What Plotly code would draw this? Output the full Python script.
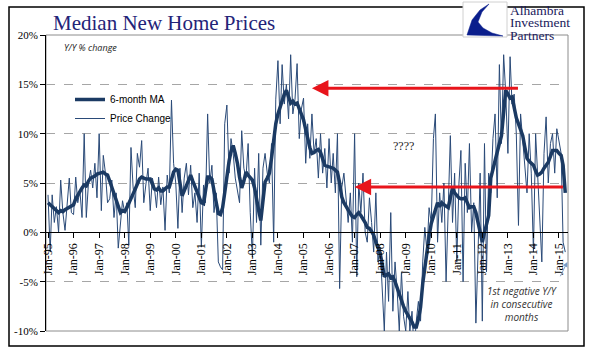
import pandas as pd
import plotly.graph_objects as go

# ---------------- data ----------------
start_month = "1995-01-01"

ma_6m = [
    3.0, 2.8, 2.6, 2.4, 2.2, 2.0, 2.2, 2.1, 2.3, 2.4, 2.5, 2.6,      # 1995
    2.8, 3.4, 3.8, 4.2, 4.5, 4.8, 4.7, 5.2, 5.5, 5.6, 5.7, 5.9,      # 1996
    6.0, 6.1, 6.1, 5.9, 5.8, 5.2, 4.6, 3.9, 3.2, 2.6, 2.0, 2.2,      # 1997
    2.1, 2.5, 3.0, 3.5, 3.9, 4.4, 5.0, 5.4, 5.6, 5.5, 5.4, 5.4,      # 1998
    5.4, 4.9, 4.4, 4.3, 4.5, 4.2, 4.2, 4.4, 4.6, 4.6, 5.5, 6.1,      # 1999
    6.4, 6.3, 5.0, 3.7, 4.2, 4.8, 5.3, 5.8, 5.2, 4.6, 4.0, 3.4,      # 2000
    3.0, 2.9, 4.0, 5.6, 5.6, 5.4, 4.2, 2.8, 1.9, 1.8, 2.5, 4.0,      # 2001
    5.8, 7.2, 8.2, 8.8, 8.0, 7.0, 5.6, 4.5, 5.2, 6.1, 5.8, 5.5,      # 2002
    5.3, 4.5, 3.2, 2.2, 1.2, 3.0, 5.1, 5.5, 6.0, 7.5, 9.3, 11.0,     # 2003
    12.0, 12.7, 13.5, 14.0, 14.4, 13.6, 13.1, 13.3, 13.0, 13.1, 12.5, 12.0,  # 2004
    11.4, 10.4, 9.4, 8.6, 8.0, 8.1, 8.3, 8.4, 8.1, 7.4, 6.8, 6.7,    # 2005
    6.6, 6.5, 6.5, 6.3, 6.1, 5.0, 3.6, 3.0, 2.6, 2.2, 1.9, 1.6,      # 2006
    1.5, 1.8, 2.0, 1.7, 1.4, 1.0, 0.5, 0.4, 0.1, -0.3, -1.0, -1.6,   # 2007
    -2.1, -3.3, -4.5, -4.3, -4.2, -4.6, -4.5, -5.0, -5.7, -6.3, -6.9, -7.5,  # 2008
    -8.0, -8.4, -8.6, -9.1, -9.6, -9.6, -8.8, -7.6, -5.2, -3.4, -1.8, -0.4,  # 2009
    0.9, 1.6, 2.2, 3.0, 2.6, 3.0, 2.8, 2.6, 2.5, 3.5, 4.5, 4.0,      # 2010
    3.7, 3.5, 3.4, 3.4, 3.5, 3.0, 2.5, 2.6, 2.6, 2.0, 1.0, 0.0,      # 2011
    -1.0, 0.0, 0.7, 1.7, 5.5, 6.3, 7.1, 8.0, 9.0, 9.8, 12.0, 14.4,   # 2012
    14.0, 13.6, 13.7, 12.6, 11.6, 11.0, 10.4, 9.8, 8.6, 7.5, 7.2, 7.0,  # 2013
    6.8, 6.2, 5.8, 5.9, 6.1, 6.5, 6.8, 7.1, 7.7, 8.3, 8.3, 8.3,      # 2014
    8.0, 7.8, 6.8, 4.0,                                              # 2015
]

price_change = [
    3.8, -2.0, 3.8, 1.0, 2.6, 0.0, 5.3, 2.0, 0.2, 3.0, 5.5, 2.0,     # 1995
    1.8, 5.6, 3.0, 4.2, 1.5, 10.0, 1.5, 5.0, 6.3, 4.5, 7.0, 3.5,     # 1996
    10.0, 2.2, 7.8, 6.0, 3.0, 3.4, 5.3, 1.5, 4.0, -1.6, 1.0, 3.2,    # 1997
    2.0, 3.0, -1.3, 8.6, 4.6, 2.5, 8.0, 6.6, 9.3, 3.0, 4.9, 6.5,     # 1998
    2.2, 5.5, 4.6, 2.5, 5.6, 2.8, 4.6, 0.2, 5.8, 4.0, 13.4, 7.0,     # 1999
    5.0, 0.4, 6.5, 2.0, 5.5, 7.0, 3.8, 6.8, 2.5, 4.0, 1.0, 6.0,      # 2000
    -1.5, 4.8, 3.0, 12.0, 5.0, 6.8, 2.0, 4.0, -3.0, -3.5, -3.8, 11.0,  # 2001
    12.9, 6.0, 9.5, 8.0, 5.5, 4.0, 3.0, 10.3, 6.5, 5.5, 9.0, 2.0,    # 2002
    -2.5, 6.5, 1.0, 8.0, -1.3, 6.5, 8.0, 6.0, 5.0, 9.0, -1.0, 13.5,  # 2003
    17.4, 11.0, 17.0, 13.0, 15.0, 11.5, 18.0, 12.0, 13.5, 17.1, 9.5, 12.5,  # 2004
    13.6, 7.0, 11.0, 7.5, 12.0, 8.0, 9.5, 5.5, 10.0, 6.0, 8.5, 4.5,  # 2005
    9.5, 5.0, 8.0, 4.0, 10.0, -5.7, 4.5, 6.0, 3.0, 1.0, 4.0, -1.0,   # 2006
    10.0, -4.5, 5.0, 2.0, 6.0, 0.0, -1.0, 3.5, 1.0, -2.0, 4.0, -3.0,  # 2007
    -1.5, -6.5, -10.0, -2.0, -7.0, 2.0, -8.0, -3.0, -6.0, -10.0, -4.0, -8.5,  # 2008
    -10.0, -6.0, -10.0, -8.0, -12.0, -9.0, -7.0, -9.0, -3.0, 0.5, -2.0, 2.5,  # 2009
    1.0, 9.5, 12.0, -1.0, 4.0, 1.0, 5.0, -5.0, 3.0, 9.8, 1.0, 6.0,   # 2010
    -3.0, 5.0, 8.3, -5.0, 7.0, 2.0, 9.0, 0.0, 3.0, -9.2, -2.0, 6.0,  # 2011
    -9.0, 9.0, -4.0, 6.0, 4.0, 9.5, 12.0, 3.5, 17.0, 9.0, 18.0, 14.0,  # 2012
    8.0, 17.8, 13.0, 14.0, 10.0, 0.7, 12.0, 9.0, 7.0, 4.0, 10.0, 6.0,  # 2013
    -2.0, 10.0, 6.0, 2.0, -3.0, 8.0, 11.7, 5.0, 9.0, 10.0, 6.0, 10.5,  # 2014
    9.0, 8.0, -1.0, -2.0,                                            # 2015
]

dates = pd.date_range(start_month, periods=len(price_change), freq="MS")

tick_years = list(range(1995, 2016))
tick_dates = [f"{y}-01-01" for y in tick_years]
tick_labels = [f"Jan-{str(y)[2:]}" for y in tick_years]

y_ticks = [-10, -5, 0, 5, 10, 15, 20]

# ---------------- layout helpers ----------------
W, H = 596, 361
L, R, T, B = 46, 28, 35, 30
PW, PH = W - L - R, H - T - B


def px(x):
    return (x - L) / PW


def py(y):
    return (H - B - y) / PH


NAVY = "#1B3A63"
SERIF = "Liberation Serif"

fig = go.Figure()
fig.add_trace(go.Scatter(
    x=dates, y=price_change, mode="lines", name="Price Change",
    line=dict(color="#2A4A78", width=1),
))
fig.add_trace(go.Scatter(
    x=dates, y=ma_6m, mode="lines", name="6-month MA",
    line=dict(color=NAVY, width=3.5),
))

shapes = []
# plot-area border (grey)
shapes.append(dict(type="rect", xref="paper", yref="paper", x0=0, y0=0, x1=1, y1=1,
                   line=dict(color="#8C8C8C", width=1), layer="below"))
# outer frame
shapes.append(dict(type="rect", xref="paper", yref="paper",
                   x0=px(9), y0=py(346), x1=px(584), y1=py(7),
                   line=dict(color="black", width=1.5)))
# logo box
shapes.append(dict(type="rect", xref="paper", yref="paper",
                   x0=px(463), y0=py(37), x1=px(507), y1=py(2),
                   fillcolor="white", line=dict(color="#D0D0D0", width=1)))
# logo swoosh
pts = [(489, 4), (480, 10), (472, 20), (467, 35), (503, 36), (492, 33),
       (483, 28), (478, 22), (482, 12)]
path = "M " + " L ".join(f"{px(a):.4f},{py(b):.4f}" for a, b in pts) + " Z"
shapes.append(dict(type="path", xref="paper", yref="paper", path=path,
                   fillcolor="#0A1E8C", line=dict(color="#0A1E8C", width=0.5)))

annotations = []
annotations.append(dict(xref="paper", yref="paper", x=px(51), y=py(23),
                        xanchor="left", yanchor="middle", showarrow=False,
                        text="Median New Home Prices",
                        font=dict(family=SERIF, size=21, color="#232378")))
annotations.append(dict(xref="paper", yref="paper", x=px(62), y=py(47),
                        xanchor="left", yanchor="middle", showarrow=False,
                        text="<i>Y/Y % change</i>",
                        font=dict(family="Open Sans", size=9, color="#222222")))
for txt, yy in [("Alhambra", 11), ("Investment", 23), ("Partners", 35)]:
    annotations.append(dict(xref="paper", yref="paper", x=px(509), y=py(yy),
                            xanchor="left", yanchor="middle", showarrow=False,
                            text=txt, borderpad=0,
                            font=dict(family=SERIF, size=13.5, color="#1A1A5C")))
# red arrows
annotations.append(dict(x="2005-05-01", y=14.6, ax="2013-06-15", ay=14.6,
                        xref="x", yref="y", axref="x", ayref="y", text="",
                        showarrow=True, arrowhead=2, arrowsize=1.1,
                        arrowwidth=3, arrowcolor="#E8141B"))
annotations.append(dict(x="2007-01-01", y=4.6, ax="2015-03-20", ay=4.6,
                        xref="x", yref="y", axref="x", ayref="y", text="",
                        showarrow=True, arrowhead=2, arrowsize=1.1,
                        arrowwidth=3, arrowcolor="#E8141B"))
annotations.append(dict(x="2008-12-01", y=8.8, xref="x", yref="y",
                        text="????", showarrow=False,
                        font=dict(family=SERIF, size=12, color="#222222")))
annotations.append(dict(x="2013-07-15", y=-7.3, xref="x", yref="y",
                        text="<i>1st negative Y/Y<br>in consecutive<br>months</i>",
                        showarrow=False, align="center",
                        font=dict(family="Open Sans", size=10, color="#333333")))
annotations.append(dict(x="2015-05-01", y=-3.0, ax="2015-01-10", ay=-4.6,
                        xref="x", yref="y", axref="x", ayref="y", text="",
                        showarrow=True, arrowhead=2, arrowsize=1,
                        arrowwidth=1, arrowcolor="#7A9CC6"))

fig.update_layout(
    width=W, height=H,
    margin=dict(l=L, r=R, t=T, b=B),
    paper_bgcolor="white", plot_bgcolor="white",
    showlegend=True,
    legend=dict(x=px(70), y=py(85), xanchor="left", yanchor="top",
                traceorder="reversed", bgcolor="rgba(0,0,0,0)",
                font=dict(family="Liberation Sans", size=10, color="black"),
                itemwidth=30, tracegroupgap=0),
    shapes=shapes, annotations=annotations,
    xaxis=dict(
        type="date",
        range=["1994-12-03", "2015-05-10"],
        anchor="free", position=1 / 3,
        showline=True, linecolor="black", linewidth=1,
        tickmode="array", tickvals=tick_dates, ticktext=tick_labels,
        tickangle=-90, ticks="outside", ticklen=5, tickcolor="black",
        tickfont=dict(family=SERIF, size=12, color="black"),
        showgrid=False, zeroline=False,
    ),
    yaxis=dict(
        range=[-10, 20], tickvals=y_ticks,
        ticktext=[f"{v}%" for v in y_ticks],
        showline=True, linecolor="black", linewidth=1,
        ticks="outside", ticklen=5, tickcolor="black",
        tickfont=dict(family=SERIF, size=11, color="black"),
        showgrid=True, gridcolor="#A6A6A6", griddash="dash", gridwidth=0.8,
        zeroline=False,
    ),
)

fig.write_html("out.html", config={"displayModeBar": False},
               post_script="document.body.style.margin='0';")
